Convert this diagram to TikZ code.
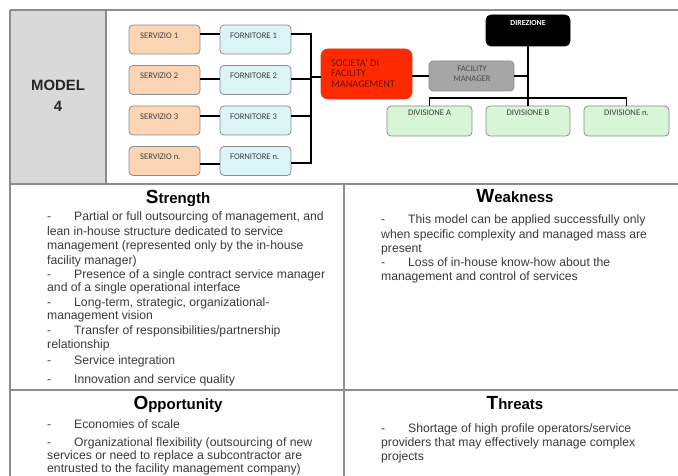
\documentclass[tikz,border=0pt]{standalone}
\usepackage{fontspec}
\setmainfont{Liberation Sans}
\newfontfamily\boxfont{Carlito}
\usetikzlibrary{calc}
\definecolor{gridc}{HTML}{8C8C8C}
\definecolor{modelgray}{HTML}{D9D9D9}
\definecolor{servfill}{HTML}{FCD5B4}
\definecolor{fornfill}{HTML}{DBF5F7}
\definecolor{divfill}{HTML}{D7F5D7}
\definecolor{socfill}{HTML}{FF2A00}
\definecolor{socline}{HTML}{D9381E}
\definecolor{socText}{HTML}{6A1200}
\definecolor{fmfill}{HTML}{A6A6A6}
\definecolor{boxline}{HTML}{8C8C8C}
\definecolor{bodytext}{HTML}{3A3A3A}
\definecolor{boxtext}{HTML}{3C3C3C}
\newcommand\swotdash{\makebox[27pt][l]{-}}
\tikzset{
  gridline/.style={draw=gridc, line width=1.3pt},
  box/.style={draw=boxline, line width=0.8pt, rounded corners=4pt, inner sep=0pt, minimum width=71pt, minimum height=29pt},
  serv/.style={box, fill=servfill},
  forn/.style={box, fill=fornfill},
  divbox/.style={box, fill=divfill, minimum width=85pt, minimum height=30pt},
  boxlabel/.style={inner sep=0pt, font=\boxfont\fontsize{8.6}{9}\selectfont, text=boxtext},
  conn/.style={draw=black, line width=1.6pt},
  body/.style={anchor=base west, inner sep=0pt, font=\fontsize{12.2}{14}\selectfont, text=bodytext},
  head/.style={anchor=base, inner sep=0pt, font=\bfseries\fontsize{15}{16}\selectfont, text=black},
}
\newcommand\bigini[1]{{\fontsize{19}{20}\selectfont #1}}
\begin{document}
\begin{tikzpicture}[x=1pt,y=-1pt]
\useasboundingbox (0,0) rectangle (678,476);
\fill[white] (0,0) rectangle (678,476);
% table
\fill[modelgray] (10,10) rectangle (106,184);
\draw[gridline] (10,10) -- (678,10);
\draw[gridline] (10,10) -- (10,476);
\draw[gridline] (106,10) -- (106,184);
\draw[gridline] (10,184) -- (678,184);
\draw[gridline] (344,184) -- (344,476);
\draw[gridline] (10,390) -- (678,390);
\node[anchor=base, inner sep=0pt, font=\bfseries\fontsize{14.9}{16}\selectfont, text=black!85] (model) at (58,91) {MODEL};
\node[anchor=base, inner sep=0pt, font=\bfseries\fontsize{14.9}{16}\selectfont, text=black!85] (four) at (58,112) {4};
% diagram boxes
\node[serv] (s1) at (164.5,39.5) {};
\node[serv] (s2) at (164.5,80) {};
\node[serv] (s3) at (164.5,120.5) {};
\node[serv] (sn) at (164.5,161) {};
\node[forn] (f1) at (255.5,39.5) {};
\node[forn] (f2) at (255.5,80) {};
\node[forn] (f3) at (255.5,120.5) {};
\node[forn] (fn) at (255.5,161) {};
\node[boxlabel, anchor=west] (s1t) at (140,36) {SERVIZIO 1};
\node[boxlabel, anchor=west] (s2t) at (140,76) {SERVIZIO 2};
\node[boxlabel, anchor=west] (s3t) at (140,117) {SERVIZIO 3};
\node[boxlabel, anchor=west] (snt) at (140,157) {SERVIZIO n.};
\node[boxlabel, anchor=west] (f1t) at (230,36) {FORNITORE 1};
\node[boxlabel, anchor=west] (f2t) at (230,76) {FORNITORE 2};
\node[boxlabel, anchor=west] (f3t) at (230,117) {FORNITORE 3};
\node[boxlabel, anchor=west] (fnt) at (230,157) {FORNITORE n.};
\node[box, fill=socfill, draw=socline, rounded corners=7pt, minimum width=91pt, minimum height=50pt] (soc) at (366.5,74) {};
\node[boxlabel, anchor=west, align=left, text=socText, font=\boxfont\fontsize{10.2}{10.7}\selectfont] (soct) at (331,73.5) {SOCIETA' DI\\FACILITY\\MANAGEMENT};
\node[box, fill=fmfill, draw=gridc, minimum width=85pt, minimum height=30pt] (fm) at (471.5,76) {};
\node[boxlabel, align=center, text=black!70, font=\boxfont\fontsize{8.6}{10.5}\selectfont] (fmt) at (472,73.5) {FACILITY\\MANAGER};
\node[box, fill=black, draw=black, rounded corners=5pt, minimum width=84pt, minimum height=31pt] (dir) at (528,30.5) {};
\node[boxlabel, text=white, font=\boxfont\bfseries\fontsize{7.8}{9}\selectfont] (dirt) at (528,23) {DIREZIONE};
\node[divbox] (diva) at (429.5,121) {};
\node[divbox, minimum width=84pt] (divb) at (528,121) {};
\node[divbox] (divn) at (626.5,121) {};
\node[boxlabel] (divat) at (429.5,113) {DIVISIONE A};
\node[boxlabel] (divbt) at (528,113) {DIVISIONE B};
\node[boxlabel] (divnt) at (626.5,113) {DIVISIONE n.};
% connectors
\coordinate (bus) at (311,77);
\draw[conn] ([yshift=5.5pt]s1.east) -- ([yshift=5.5pt]f1.west);
\draw[conn] ([yshift=1pt]s2.east) -- ([yshift=1pt]f2.west);
\draw[conn] ([yshift=4.5pt]s3.east) -- ([yshift=4.5pt]f3.west);
\draw[conn] ([yshift=-3pt]sn.east) -- ([yshift=-3pt]fn.west);
\draw[conn] ([yshift=5.5pt]f1.east) -- ([yshift=5.5pt]f1.east -| bus) -- ([yshift=-2pt]fn.east -| bus) -- ([yshift=-2pt]fn.east);
\draw[conn] ([yshift=1pt]f2.east) -- ([yshift=1pt]f2.east -| bus);
\draw[conn] ([yshift=4.5pt]f3.east) -- ([yshift=4.5pt]f3.east -| bus);
\draw[conn] (bus) -- (bus -| soc.west);
\draw[conn] (soc.east |- fm.west) -- (fm.west);
\draw[conn] (fm.east) -- (fm.east -| dir.south);
\draw[conn] (dir.south) -- (divb.north);
\coordinate (dbus) at (528,98);
\draw[conn] (diva.north) -- (diva.north |- dbus) -- (divn.north |- dbus) -- (divn.north);
% Strength
\node[head] (hs) at (178,204) {\bigini{S}trength};
\node[body] (sa1) at (47,221) {\swotdash Partial or full outsourcing of management, and};
\node[body] (sa2) at (47,236) {lean in-house structure dedicated to service};
\node[body] (sa3) at (47,250) {management (represented only by the in-house};
\node[body] (sa4) at (47,264) {facility manager)};
\node[body] (sb1) at (47,278) {\swotdash Presence of a single contract service manager};
\node[body] (sb2) at (47,291) {and of a single operational interface};
\node[body] (sc1) at (47,306) {\swotdash Long-term, strategic, organizational-};
\node[body] (sc2) at (47,319) {management vision};
\node[body] (sd1) at (47,334) {\swotdash Transfer of responsibilities/partnership};
\node[body] (sd2) at (47,348) {relationship};
\node[body] (se1) at (47,364) {\swotdash Service integration};
\node[body] (sf1) at (47,383) {\swotdash Innovation and service quality};
% Weakness
\node[head] (hw) at (515,203) {\bigini{W}eakness};
\node[body] (wa1) at (381,223) {\swotdash This model can be applied successfully only};
\node[body] (wa2) at (381,238) {when specific complexity and managed mass are};
\node[body] (wa3) at (381,252) {present};
\node[body] (wb1) at (381,266) {\swotdash Loss of in-house know-how about the};
\node[body] (wb2) at (381,280) {management and control of services};
% Opportunity
\node[head] (ho) at (178,409) {\bigini{O}pportunity};
\node[body] (oa1) at (47,428) {\swotdash Economies of scale};
\node[body] (ob1) at (47,446) {\swotdash Organizational flexibility (outsourcing of new};
\node[body] (ob2) at (47,459) {services or need to replace a subcontractor are};
\node[body] (ob3) at (47,472) {entrusted to the facility management company)};
% Threats
\node[head] (ht) at (515,409) {\bigini{T}hreats};
\node[body] (ta1) at (381,432) {\swotdash Shortage of high profile operators/service};
\node[body] (ta2) at (381,446) {providers that may effectively manage complex};
\node[body] (ta3) at (381,460) {projects};
\end{tikzpicture}
\end{document}
